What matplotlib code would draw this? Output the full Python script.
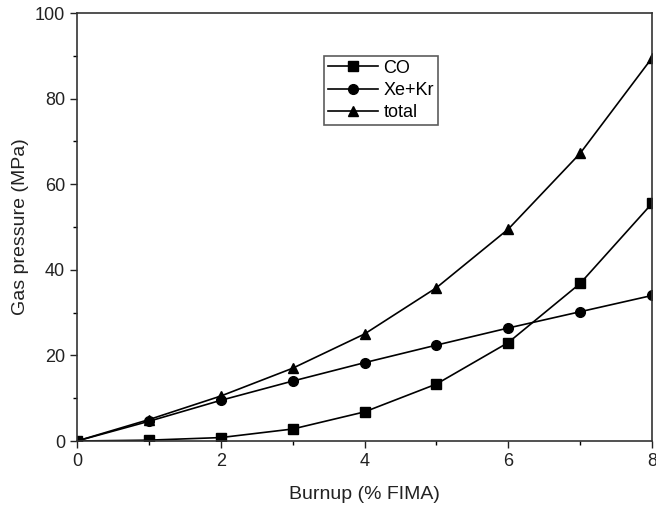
import numpy as np
import matplotlib.pyplot as plt
from matplotlib.ticker import MultipleLocator

plt.rcParams['font.family'] = ['Liberation Sans', 'DejaVu Sans']

# burnup steps and pressures (MPa)
burnup = [0, 1, 2, 3, 4, 5, 6, 7, 8]
co = [0, 0.2, 0.8, 2.8, 6.8, 13.3, 23.0, 36.8, 55.5]
xekr = [0, 4.6, 9.5, 14.0, 18.3, 22.4, 26.4, 30.2, 34.0]
total = [0, 5.0, 10.5, 17.0, 25.0, 35.8, 49.5, 67.2, 89.5]

fig = plt.figure(figsize=(6.56, 5.09), dpi=100)
ax = fig.add_axes([77/656, 1 - 441/509, 575/656, 428/509])

ax.plot(burnup, co, 'k-s', lw=1.2, ms=6.5, label='CO')
ax.plot(burnup, xekr, 'k-o', lw=1.2, ms=7, label='Xe+Kr')
ax.plot(burnup, total, 'k-^', lw=1.2, ms=7.5, label='total')

ax.set_xlim(0, 8)
ax.set_ylim(0, 100)
ax.xaxis.set_major_locator(MultipleLocator(2))
ax.xaxis.set_minor_locator(MultipleLocator(1))
ax.yaxis.set_major_locator(MultipleLocator(20))
ax.yaxis.set_minor_locator(MultipleLocator(10))
ax.tick_params(which='major', direction='out', length=5, width=1, labelsize=13, colors='#222222')
ax.tick_params(which='minor', direction='out', length=3, width=1)
for s in ax.spines.values():
    s.set_linewidth(1.2)
    s.set_color('#333333')

ax.set_xlabel('Burnup (% FIMA)', fontsize=14, labelpad=12, color='#222222')
ax.set_ylabel('Gas pressure (MPa)', fontsize=14, labelpad=4, color='#222222')

leg = ax.legend(loc='upper left', bbox_to_anchor=(247/575, 1 - 43/428), fontsize=13,
                frameon=True, fancybox=False, edgecolor='#333333', handlelength=2.8,
                borderpad=0.2, labelspacing=0.3, handletextpad=0.3, borderaxespad=0)
leg.get_frame().set_linewidth(1.2)

fig.savefig('out.png', dpi=100)
